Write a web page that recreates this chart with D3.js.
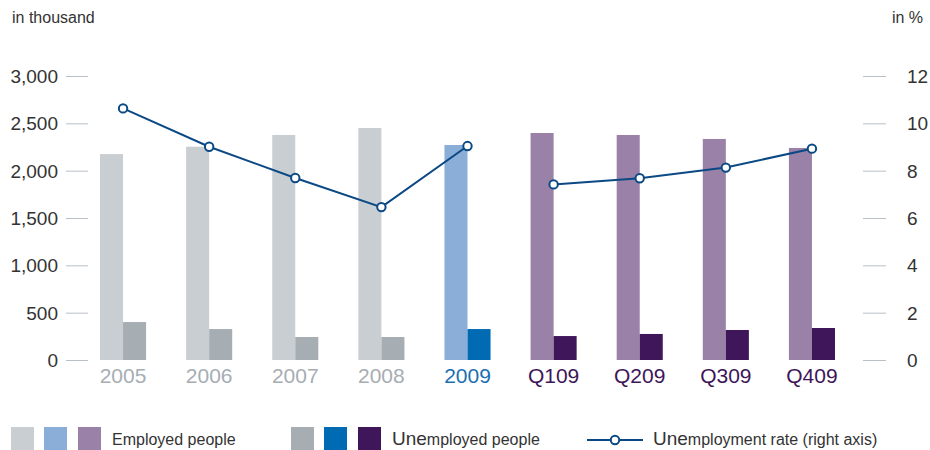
<!DOCTYPE html>
<html>
<head>
<meta charset="utf-8">
<script src="https://cdn.jsdelivr.net/npm/d3@7"></script>
<style>
  html, body { margin: 0; padding: 0; background: #fff; }
  svg { display: block; font-family: "Liberation Sans", Arial, sans-serif; }
</style>
</head>
<body>
<svg id="chart" width="930" height="450"></svg>
<script>
// Labour market figures: annual 2005–2009 and quarterly 2009
const categories = ["2005", "2006", "2007", "2008", "2009", "Q109", "Q209", "Q309", "Q409"];
const employed   = [2175, 2253, 2377, 2451, 2271, 2398, 2377, 2335, 2240];   // in thousand
const unemployed = [401, 327, 243, 243, 327, 253, 275, 317, 338];           // in thousand
const rate       = [10.63, 9.01, 7.69, 6.46, 9.04, 7.42, 7.68, 8.13, 8.93]; // in %
const leftTicks  = [0, 500, 1000, 1500, 2000, 2500, 3000];
const rightTicks = [0, 2, 4, 6, 8, 10, 12];

// Colour group per category: past years, full-year 2009, 2009 quarters
const groupOf = c => c.startsWith("Q") ? 2 : (c === "2009" ? 1 : 0);
const employedColors   = ["#c9ced3", "#8aaed7", "#9981a8"];
const unemployedColors = ["#a6adb3", "#006ab3", "#3e1659"];
const labelColors      = ["#a6adb3", "#1a6fb2", "#3e1659"];
const lineColor = "#0b4985";
const textColor = "#333";
const tickColor = "#b7c0c8";

const svg = d3.select("#chart");

const x0 = d3.scaleBand().domain(categories).range([80, 855])
  .paddingInner(0.465).paddingOuter(0.2325);
const x1 = d3.scaleBand().domain(["employed", "unemployed"]).range([0, x0.bandwidth()]);
const y  = d3.scaleLinear().domain([0, 3000]).range([360, 76]);
const y2 = d3.scaleLinear().domain([0, 12]).range([360, 76]);

// Left axis (thousands)
const fmt = d3.format(",");
const leftAxis = svg.append("g").attr("transform", "translate(88,0)")
  .call(d3.axisLeft(y).tickValues(leftTicks).tickSize(22).tickPadding(8).tickFormat(fmt));
leftAxis.select(".domain").remove();
leftAxis.selectAll(".tick line").attr("stroke", tickColor);
leftAxis.selectAll(".tick text").attr("fill", textColor).style("font-size", "19px")
  .attr("font-family", "Liberation Sans, Arial, sans-serif").attr("dy", "0.35em");

// Right axis (percent)
const rightAxis = svg.append("g").attr("transform", "translate(863,0)")
  .call(d3.axisRight(y2).tickValues(rightTicks).tickSize(23).tickPadding(21));
rightAxis.select(".domain").remove();
rightAxis.selectAll(".tick line").attr("stroke", tickColor);
rightAxis.selectAll(".tick text").attr("fill", textColor).style("font-size", "19px")
  .attr("font-family", "Liberation Sans, Arial, sans-serif").attr("dy", "0.35em");

// Axis unit captions
svg.append("text").attr("x", 12).attr("y", 23).attr("fill", textColor)
  .style("font-size", "16px").text("in thousand");
svg.append("text").attr("x", 923).attr("y", 23).attr("text-anchor", "end").attr("fill", textColor)
  .style("font-size", "16px").text("in %");

// Bars
const groups = svg.append("g").selectAll("g").data(categories).join("g")
  .attr("transform", c => `translate(${x0(c)},0)`);

groups.append("rect")
  .attr("x", x1("employed")).attr("width", x1.bandwidth())
  .attr("y", (c, i) => y(employed[i])).attr("height", (c, i) => y(0) - y(employed[i]))
  .attr("fill", c => employedColors[groupOf(c)]);

groups.append("rect")
  .attr("x", x1("unemployed")).attr("width", x1.bandwidth())
  .attr("y", (c, i) => y(unemployed[i])).attr("height", (c, i) => y(0) - y(unemployed[i]))
  .attr("fill", c => unemployedColors[groupOf(c)]);

// Category labels
svg.append("g").selectAll("text").data(categories).join("text")
  .attr("x", c => x0(c) + x0.bandwidth() / 2)
  .attr("y", 383)
  .attr("text-anchor", "middle")
  .attr("fill", c => labelColors[groupOf(c)])
  .style("font-size", "21px")
  .text(c => c);

// Unemployment rate line: annual segment and quarterly segment drawn separately
const cx = i => x0(categories[i]) + x0.bandwidth() / 2;
const line = d3.line().x(d => cx(d)).y(d => y2(rate[d]));
const annualIdx = [0, 1, 2, 3, 4];
const quarterIdx = [5, 6, 7, 8];
[annualIdx, quarterIdx].forEach(idx => {
  svg.append("path").datum(idx).attr("d", line)
    .attr("fill", "none").attr("stroke", lineColor).attr("stroke-width", 2);
});
svg.append("g").selectAll("circle").data(rate).join("circle")
  .attr("cx", (d, i) => cx(i)).attr("cy", d => y2(d)).attr("r", 4.2)
  .attr("fill", "#fff").attr("stroke", lineColor).attr("stroke-width", 2);

// Legend
const legend = svg.append("g");
const swatch = 23;
const empX = [11, 44, 78], unX = [291, 324, 358];
empX.forEach((lx, i) => legend.append("rect").attr("x", lx).attr("y", 427)
  .attr("width", swatch).attr("height", swatch).attr("fill", employedColors[i]));
unX.forEach((lx, i) => legend.append("rect").attr("x", lx).attr("y", 427)
  .attr("width", swatch).attr("height", swatch).attr("fill", unemployedColors[i]));

legend.append("text").attr("x", 112).attr("y", 445).attr("fill", textColor)
  .style("font-size", "16px").text("Employed people");

const unText = legend.append("text").attr("x", 392).attr("y", 445).attr("fill", textColor)
  .style("font-size", "16px");
unText.append("tspan").style("font-size", "19px").text("Une");
unText.append("tspan").text("mployed people");

legend.append("line").attr("x1", 587).attr("x2", 643).attr("y1", 440).attr("y2", 440)
  .attr("stroke", lineColor).attr("stroke-width", 2);
legend.append("circle").attr("cx", 615).attr("cy", 440).attr("r", 4.2)
  .attr("fill", "#fff").attr("stroke", lineColor).attr("stroke-width", 2);

const rateText = legend.append("text").attr("x", 653).attr("y", 445).attr("fill", textColor)
  .style("font-size", "16px");
rateText.append("tspan").style("font-size", "19px").text("Une");
rateText.append("tspan").text("mployment rate (right axis)");
</script>
</body>
</html>
